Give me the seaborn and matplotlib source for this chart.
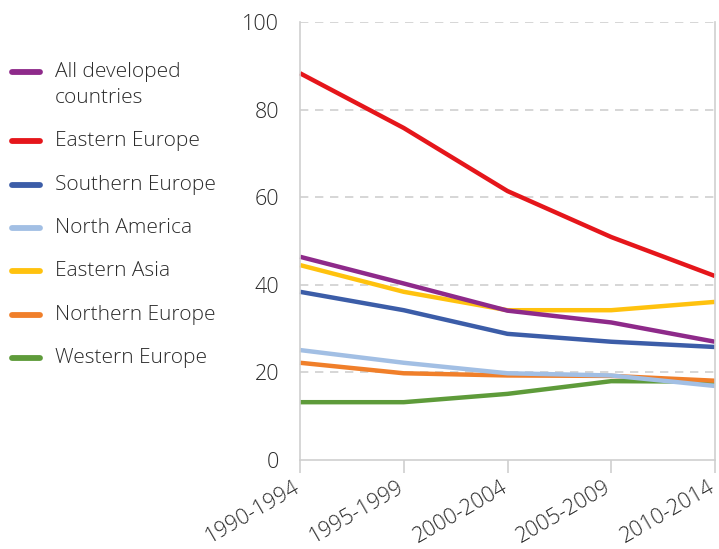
import matplotlib
matplotlib.use("Agg")
import matplotlib.pyplot as plt
import matplotlib.transforms as mtransforms
from matplotlib.lines import Line2D
import seaborn as sns
import pandas as pd

# Five-year periods on the x axis
periods = ["1990-1994", "1995-1999", "2000-2004", "2005-2009", "2010-2014"]

# Series values per region
all_developed = [46.4, 40.3, 34.1, 31.4, 27.0]
eastern_europe = [88.3, 75.8, 61.4, 50.9, 42.0]
southern_europe = [38.4, 34.2, 28.8, 27.0, 25.8]
north_america = [25.1, 22.2, 19.8, 19.3, 16.9]
eastern_asia = [44.5, 38.4, 34.2, 34.2, 36.1]
northern_europe = [22.2, 19.8, 19.3, 19.2, 18.1]
western_europe = [13.2, 13.2, 15.1, 18.0, 17.9]

series_names = ["All developed\ncountries", "Eastern Europe", "Southern Europe",
                "North America", "Eastern Asia", "Northern Europe", "Western Europe"]
series_values = [all_developed, eastern_europe, southern_europe, north_america,
                 eastern_asia, northern_europe, western_europe]
colors = ["#8E2A8A", "#E5161B", "#3C5DA8", "#A2BFE4", "#FFC20E", "#F07F2A", "#5E9B3A"]

# Long-form table for seaborn
rows = []
for name, vals in zip(series_names, series_values):
    for i, v in enumerate(vals):
        rows.append({"series": name, "period": i, "value": v})
df = pd.DataFrame(rows)

sns.set_style("white")
plt.rcParams["font.family"] = ["Open Sans", "DejaVu Sans"]
plt.rcParams["font.weight"] = "light"
text_color = "#2B2B2B"
grid_color = "#CFCFCF"
fs_tick = 15.5
fs_leg = 15

fig = plt.figure(figsize=(7.19, 5.49), dpi=100)
W, H = 719, 549
ax = fig.add_axes([300 / W, 1 - 460 / H, 415 / W, 438 / H])

# Draw order: lower series first so the top ones sit above
draw_order = [6, 5, 3, 2, 4, 0, 1]
for idx in draw_order:
    name = series_names[idx]
    sub = df[df["series"] == name]
    sns.lineplot(data=sub, x="period", y="value", ax=ax, color=colors[idx],
                 linewidth=3.2, legend=False, clip_on=False,
                 solid_capstyle="butt", solid_joinstyle="round")

ax.set_xlim(0, len(periods) - 1)
ax.set_ylim(0, 100)
ax.set_xticks(range(len(periods)))
ax.set_xticklabels(periods, rotation=30, ha="right", rotation_mode="anchor")
ax.set_yticks([0, 20, 40, 60, 80, 100])
ax.set_xlabel("")
ax.set_ylabel("")

# Dashed horizontal gridlines
for yv in [20, 40, 60, 80, 100]:
    ax.axhline(yv, color=grid_color, lw=1.2, ls=(0, (5, 4)), zorder=0)

ax.spines["top"].set_visible(False)
for side in ["left", "right", "bottom"]:
    ax.spines[side].set_visible(True)
    ax.spines[side].set_color(grid_color)
    ax.spines[side].set_linewidth(1.2)

ax.tick_params(axis="x", length=9, width=1.2, color=grid_color,
               labelsize=fs_tick, labelcolor=text_color, pad=3, bottom=True)
ax.tick_params(axis="y", length=0, labelsize=fs_tick, labelcolor=text_color, pad=15)

# Keep the rotated x labels inside the canvas
offset = mtransforms.ScaledTranslation(-7 / 100, 0, fig.dpi_scale_trans)
for lbl in ax.get_xticklabels():
    lbl.set_transform(lbl.get_transform() + offset)

# Legend entries on the left
legend_y = [72, 141, 185, 228, 271, 315, 358]
for name, col, yp in zip(series_names, colors, legend_y):
    fig.add_artist(Line2D([12 / W, 40 / W], [1 - yp / H, 1 - yp / H],
                          color=col, lw=4.2, solid_capstyle="round",
                          transform=fig.transFigure))
    for k, line in enumerate(name.split("\n")):
        fig.text(55 / W, 1 - (yp + k * 26) / H, line, fontsize=fs_leg,
                 color=text_color, va="center", ha="left")

fig.savefig("out.png", dpi=100)
